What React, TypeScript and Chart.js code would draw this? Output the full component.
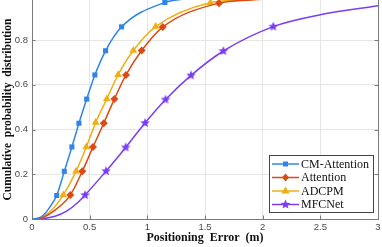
import React, { useEffect, useRef } from 'react';
import { Chart, registerables } from 'chart.js';

Chart.register(...registerables);

// ---- data ----
const seriesNames = ['CM-Attention', 'Attention', 'ADCPM', 'MFCNet'];
const seriesColors = ['#2f86e6', '#dc4a14', '#f0ae16', '#7a3cf5'];

const xTicks = [0, 0.5, 1, 1.5, 2, 2.5, 3];
const yTicks = [0, 0.2, 0.4, 0.6, 0.8];

// marker points
const cmAttentionMarkX = [0.214, 0.28, 0.346, 0.407, 0.474, 0.545, 0.638, 0.777, 1.152];
const cmAttentionMarkY = [0.105, 0.213, 0.322, 0.428, 0.536, 0.644, 0.752, 0.859, 0.968];
const attentionMarkX = [0.332, 0.436, 0.529, 0.622, 0.714, 0.815, 0.951, 1.133, 1.621];
const attentionMarkY = [0.107, 0.213, 0.322, 0.428, 0.536, 0.644, 0.753, 0.858, 0.965];
const adcpmMarkX = [0.271, 0.382, 0.471, 0.552, 0.648, 0.747, 0.878, 1.073, 1.546];
const adcpmMarkY = [0.107, 0.213, 0.322, 0.431, 0.536, 0.645, 0.753, 0.86, 0.967];
const mfcnetMarkX = [0.46, 0.642, 0.812, 0.98, 1.158, 1.379, 1.659, 2.092];
const mfcnetMarkY = [0.107, 0.214, 0.32, 0.429, 0.534, 0.642, 0.751, 0.86];

// curve-only points (no marker)
const cmAttentionCurveX = [0, 0.05, 0.1, 0.15, 1.3, 1.6, 2, 3];
const cmAttentionCurveY = [0, 0.003, 0.018, 0.05, 0.982, 0.993, 0.998, 1];
const attentionCurveX = [0, 0.05, 0.1, 0.2, 1.9, 2.5, 3];
const attentionCurveY = [0, 0.001, 0.008, 0.04, 0.979, 0.993, 0.998];
const adcpmCurveX = [0, 0.05, 0.1, 0.18, 1.85, 2.5, 3];
const adcpmCurveY = [0, 0.002, 0.012, 0.045, 0.979, 0.993, 0.998];
const mfcnetCurveX = [0, 0.1, 0.2, 0.3, 0.4, 2.5, 3];
const mfcnetCurveY = [0, 0.002, 0.012, 0.035, 0.075, 0.913, 0.953];

const markX = [cmAttentionMarkX, attentionMarkX, adcpmMarkX, mfcnetMarkX];
const markY = [cmAttentionMarkY, attentionMarkY, adcpmMarkY, mfcnetMarkY];
const curveX = [cmAttentionCurveX, attentionCurveX, adcpmCurveX, mfcnetCurveX];
const curveY = [cmAttentionCurveY, attentionCurveY, adcpmCurveY, mfcnetCurveY];

function drawStar(ctx: CanvasRenderingContext2D, cx: number, cy: number, R: number, color: string) {
  const r = R * 0.45;
  ctx.beginPath();
  for (let i = 0; i < 10; i++) {
    const a = -Math.PI / 2 + (i * Math.PI) / 5;
    const rad = i % 2 === 0 ? R : r;
    ctx.lineTo(cx + rad * Math.cos(a), cy + rad * Math.sin(a));
  }
  ctx.closePath();
  ctx.fillStyle = color;
  ctx.fill();
}

function makeStar(color: string, size: number) {
  const c = document.createElement('canvas');
  c.width = size;
  c.height = size;
  const ctx = c.getContext('2d')!;
  drawStar(ctx, size / 2, size / 2, size / 2, color);
  return c;
}

function drawMarker(ctx: CanvasRenderingContext2D, kind: number, x: number, y: number, color: string) {
  ctx.save();
  ctx.fillStyle = color;
  ctx.beginPath();
  if (kind === 0) {
    ctx.rect(x - 2.5, y - 2.5, 5, 5);
    ctx.fill();
  } else if (kind === 1) {
    ctx.moveTo(x, y - 4);
    ctx.lineTo(x + 3.5, y);
    ctx.lineTo(x, y + 4);
    ctx.lineTo(x - 3.5, y);
    ctx.closePath();
    ctx.fill();
  } else if (kind === 2) {
    ctx.moveTo(x, y - 4.5);
    ctx.lineTo(x + 4.2, y + 2.6);
    ctx.lineTo(x - 4.2, y + 2.6);
    ctx.closePath();
    ctx.fill();
  } else {
    drawStar(ctx, x, y, 5, color);
  }
  ctx.restore();
}

export default function App() {
  const ref = useRef<HTMLCanvasElement | null>(null);

  useEffect(() => {
    if (!ref.current) return;
    document.body.style.margin = '0';

    const starImg = makeStar(seriesColors[3], 10);
    const pointStyles: any[] = ['rect', 'rectRot', 'triangle', starImg];
    const pointRadii = [3.6, 4, 4.5, 5];

    const datasets = seriesNames.map((name, i) => {
      const pts: { x: number; y: number; m: boolean }[] = [];
      markX[i].forEach((x, k) => pts.push({ x, y: markY[i][k], m: true }));
      curveX[i].forEach((x, k) => pts.push({ x, y: curveY[i][k], m: false }));
      pts.sort((a, b) => a.x - b.x);
      return {
        label: name,
        data: pts.map((p) => ({ x: p.x, y: p.y })),
        borderColor: seriesColors[i],
        backgroundColor: seriesColors[i],
        borderWidth: 1.5,
        pointStyle: pointStyles[i],
        pointRadius: pts.map((p) => (p.m ? pointRadii[i] : 0)),
        pointHoverRadius: 0,
        pointBorderWidth: 0,
        cubicInterpolationMode: 'monotone' as const,
        fill: false,
      };
    });

    const framePlugin = {
      id: 'frame',
      afterDraw(chart: any) {
        const { ctx, chartArea } = chart;
        const { left, right, top, bottom } = chartArea;
        const xs = chart.scales.x;
        const ys = chart.scales.y;
        ctx.save();
        ctx.strokeStyle = '#7a7a7a';
        ctx.lineWidth = 1;
        ctx.beginPath();
        ctx.moveTo(Math.round(right) + 0.5, top);
        ctx.lineTo(Math.round(right) + 0.5, bottom);
        // inward ticks
        xTicks.forEach((v) => {
          const px = Math.round(xs.getPixelForValue(v)) + 0.5;
          ctx.moveTo(px, bottom);
          ctx.lineTo(px, bottom - 3.5);
        });
        yTicks.forEach((v) => {
          const py = Math.round(ys.getPixelForValue(v)) + 0.5;
          ctx.moveTo(left, py);
          ctx.lineTo(left + 3.5, py);
          ctx.moveTo(right, py);
          ctx.lineTo(right - 3.5, py);
        });
        ctx.stroke();

        // legend
        const bx = 269.5, by = 155.5, bw = 104, bh = 57;
        ctx.fillStyle = '#ffffff';
        ctx.fillRect(bx, by, bw, bh);
        ctx.strokeStyle = '#444444';
        ctx.strokeRect(bx, by, bw, bh);
        const rowY = [164, 177.5, 191, 204.5];
        ctx.font = '12px "Liberation Serif"';
        ctx.textBaseline = 'middle';
        ctx.textAlign = 'left';
        seriesNames.forEach((name, i) => {
          const y = rowY[i];
          ctx.strokeStyle = seriesColors[i];
          ctx.lineWidth = 1.5;
          ctx.beginPath();
          ctx.moveTo(272, y);
          ctx.lineTo(299, y);
          ctx.stroke();
          drawMarker(ctx, i, 285.5, y, seriesColors[i]);
          ctx.fillStyle = '#111111';
          ctx.fillText(name, 301, y + 0.5);
        });
        ctx.restore();
      },
    };

    const chart = new Chart(ref.current, {
      type: 'line',
      data: { datasets: datasets as any },
      plugins: [framePlugin],
      options: {
        animation: false,
        responsive: false,
        maintainAspectRatio: false,
        events: [],
        layout: { padding: { left: 0, right: 4, top: 0, bottom: 0 } },
        plugins: {
          legend: { display: false },
          tooltip: { enabled: false },
        },
        scales: {
          x: {
            type: 'linear',
            min: 0,
            max: 3,
            afterBuildTicks: (axis: any) => {
              axis.ticks = xTicks.map((v) => ({ value: v }));
            },
            afterFit: (scale: any) => {
              scale.height = 28;
              scale.paddingLeft = 0;
              scale.paddingRight = 0;
            },
            ticks: {
              font: { family: '"Liberation Sans"', size: 9.5 },
              color: '#4a4a4a',
              padding: 2.5,
              maxRotation: 0,
              callback: (v: any) => String(v),
            },
            grid: { color: '#e6e6e6', drawTicks: false },
            border: { color: '#7a7a7a' },
            title: {
              display: true,
              text: 'Positioning  Error  (m)',
              font: { family: '"Liberation Serif"', size: 12, weight: 'bold' },
              color: '#111111',
              padding: { top: 0, bottom: 1.5 },
            },
          },
          y: {
            type: 'linear',
            min: 0,
            max: 0.979,
            afterBuildTicks: (axis: any) => {
              axis.ticks = yTicks.map((v) => ({ value: v }));
            },
            afterFit: (scale: any) => {
              scale.width = 32;
              scale.paddingTop = 0;
              scale.paddingBottom = 0;
            },
            ticks: {
              font: { family: '"Liberation Sans"', size: 9.5 },
              color: '#4a4a4a',
              padding: 4,
              callback: (v: any) => (v === 0 ? '0' : Number(v).toFixed(1)),
            },
            grid: { color: '#e6e6e6', drawTicks: false },
            border: { color: '#7a7a7a' },
            title: {
              display: true,
              text: 'Cumulative  probability  distribution',
              font: { family: '"Liberation Serif"', size: 11.5, weight: 'bold' },
              color: '#111111',
              padding: { top: 1.5, bottom: 0 },
            },
          },
        },
      },
    });
    return () => chart.destroy();
  }, []);

  return (
    <div style={{ position: 'fixed', left: 0, top: 0, width: 382, height: 247 }}>
      <canvas ref={ref} width={382} height={247} style={{ width: 382, height: 247, display: 'block' }} />
    </div>
  );
}
